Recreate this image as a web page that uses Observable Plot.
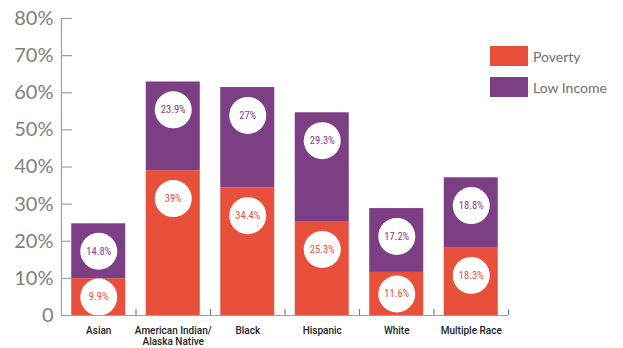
<!DOCTYPE html>
<html>
<head>
<meta charset="utf-8">
<script src="https://cdn.jsdelivr.net/npm/d3@7"></script>
<script src="https://cdn.jsdelivr.net/npm/@observablehq/plot@0.6"></script>
<style>
  html, body { margin: 0; padding: 0; background: #fff; }
  #wrap { position: relative; width: 623px; height: 348px; overflow: hidden; }
  #legend { position: absolute; left: 490px; top: 46px; font-family: Lato, "Open Sans", sans-serif; font-size: 14px; color: #707070; }
  .item { display: flex; align-items: center; height: 20px; margin-bottom: 11px; }
  .sw { width: 38px; height: 20px; margin-right: 5px; }
</style>
</head>
<body>
<div id="wrap">
  <div id="chart"></div>
  <div id="legend"></div>
</div>
<script>
const categories = ["Asian", "American Indian/\nAlaska Native", "Black", "Hispanic", "White", "Multiple Race"];
const poverty = [9.9, 39, 34.4, 25.3, 11.6, 18.3];
const lowIncome = [14.8, 23.9, 27, 29.3, 17.2, 18.8];
const series = ["Poverty", "Low Income"];
const seriesColors = ["#e8503c", "#7c3f83"];
const yTicks = [0, 10, 20, 30, 40, 50, 60, 70, 80];
const yTickLabels = ["0", "10%", "20%", "30%", "40%", "50%", "60%", "70%", "80%"];

const rows = [];
categories.forEach((c, i) => {
  rows.push({cat: c, i, series: series[0], value: poverty[i], y1: 0, y2: poverty[i]});
  rows.push({cat: c, i, series: series[1], value: lowIncome[i], y1: poverty[i], y2: poverty[i] + lowIncome[i]});
});

const W = 623, H = 348, mL = 61, mR = 115, mT = 18, mB = 33;
const step = (W - mL - mR) / categories.length; // px per category
const halfBar = 27 / step;
const tickLen = 11 / step;
const labelY = d => d.y2 - Math.min((d.y2 - d.y1) / 2, 7.5);
const axisColor = "#a0a0a0";

const chart = Plot.plot({
  width: W, height: H,
  marginLeft: mL, marginRight: mR, marginTop: mT, marginBottom: mB,
  style: {background: "transparent", overflow: "visible"},
  x: {domain: [0, categories.length], axis: null},
  y: {domain: [0, 80], axis: null},
  color: {domain: series, range: seriesColors},
  marks: [
    Plot.rect(rows, {x1: d => d.i + 0.5 - halfBar, x2: d => d.i + 0.5 + halfBar, y1: "y1", y2: "y2", fill: "series"}),
    Plot.dot(rows, {x: d => d.i + 0.5, y: labelY, r: 18.5, fill: "white", stroke: "none"}),
    Plot.text(rows, {x: d => d.i + 0.5, y: labelY, text: d => d.value + "%", fill: "series", fontSize: 10.5, fontFamily: "Roboto Condensed, Roboto, sans-serif"}),
    Plot.ruleX([0], {y1: 0, y2: 80, stroke: axisColor, strokeWidth: 1.2}),
    Plot.ruleY(yTicks, {y: d => d, x1: 0, x2: tickLen, stroke: axisColor, strokeWidth: 1.2}),
    Plot.ruleY([0], {x1: 0, x2: categories.length, stroke: axisColor, strokeWidth: 1.2}),
    Plot.ruleX(categories, {x: (d, i) => i + 1, y1: 0, y2: 1.6, stroke: "#808080", strokeWidth: 1.2}),
    Plot.text(yTicks, {x: 0, y: d => d, dx: -8, text: (d, i) => yTickLabels[i], textAnchor: "end", fontSize: 20, fill: "#808080", fontFamily: "Lato, sans-serif"}),
    Plot.text(categories, {x: (d, i) => i + 0.5, y: 0, dy: 11, text: d => d, lineAnchor: "top", fontSize: 10, fill: "#222", fontFamily: "Roboto, sans-serif", fontWeight: 500, lineHeight: 1.1})
  ]
});
document.getElementById("chart").appendChild(chart);

const legend = document.getElementById("legend");
series.forEach((s, i) => {
  const item = document.createElement("div");
  item.className = "item";
  const sw = document.createElement("div");
  sw.className = "sw";
  sw.style.background = seriesColors[i];
  const t = document.createElement("span");
  t.textContent = s;
  item.appendChild(sw);
  item.appendChild(t);
  legend.appendChild(item);
});
</script>
</body>
</html>
